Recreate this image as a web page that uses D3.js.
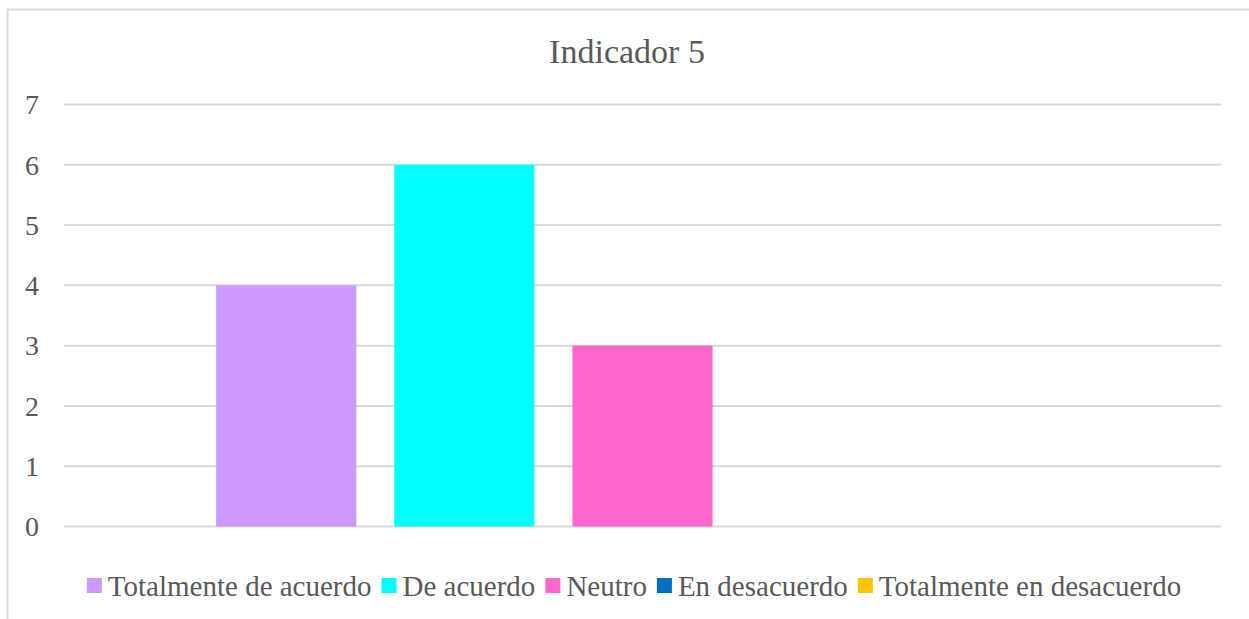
<!DOCTYPE html>
<html>
<head>
<meta charset="utf-8">
<script src="https://cdn.jsdelivr.net/npm/d3@7"></script>
<style>
  body { margin: 0; background: #fff; }
  svg text { font-family: "Liberation Serif", "Times New Roman", serif; }
  .grid line { stroke: #d9d9d9; stroke-width: 2; }
</style>
</head>
<body>
<script>
var series = ["Totalmente de acuerdo", "De acuerdo", "Neutro", "En desacuerdo", "Totalmente en desacuerdo"];
var values = [4, 6, 3, 0, 0];
var colors = ["#cc99ff", "#00ffff", "#ff66cc", "#0070c0", "#ffc000"];
var yTicks = [0, 1, 2, 3, 4, 5, 6, 7];
var title = "Indicador 5";

var w = 1249, h = 619;
var margin = { top: 104.5, right: 28, bottom: 92.5, left: 64 };

var svg = d3.select("body").append("svg")
  .attr("width", w)
  .attr("height", h);

// chart frame (runs off the right and bottom edges)
svg.append("rect")
  .attr("x", 7.5).attr("y", 9.5)
  .attr("width", w + 10).attr("height", h + 10)
  .attr("fill", "none")
  .attr("stroke", "#d9d9d9")
  .attr("stroke-width", 2);

var x0 = d3.scaleBand()
  .domain([""])
  .range([margin.left, w - margin.right])
  .paddingOuter(0.1784);

var x1 = d3.scaleBand()
  .domain(series)
  .range([0, x0.bandwidth()])
  .paddingInner(0.2135)
  .paddingOuter(0);

var y = d3.scaleLinear()
  .domain([0, 7])
  .range([h - margin.bottom, margin.top]);

var grid = svg.append("g").attr("class", "grid");
grid.selectAll("line")
  .data(yTicks)
  .join("line")
  .attr("x1", margin.left)
  .attr("x2", w - margin.right)
  .attr("y1", function (d) { return y(d); })
  .attr("y2", function (d) { return y(d); });

svg.append("g")
  .selectAll("text")
  .data(yTicks)
  .join("text")
  .attr("x", 39)
  .attr("y", function (d) { return y(d); })
  .attr("dy", "0.35em")
  .attr("text-anchor", "end")
  .attr("fill", "#595959")
  .style("font-size", "28px")
  .text(function (d) { return d; });

svg.append("g")
  .selectAll("rect")
  .data(series)
  .join("rect")
  .attr("x", function (d) { return x0("") + x1(d); })
  .attr("y", function (d, i) { return y(values[i]); })
  .attr("width", x1.bandwidth())
  .attr("height", function (d, i) { return y(0) - y(values[i]); })
  .attr("fill", function (d, i) { return colors[i]; });

svg.append("text")
  .attr("x", 627)
  .attr("y", 63)
  .attr("text-anchor", "middle")
  .attr("fill", "#595959")
  .style("font-size", "34px")
  .text(title);

// legend, centred under the plot
var legend = svg.append("g");
var items = legend.selectAll("g")
  .data(series)
  .join("g");
items.append("rect")
  .attr("width", 15)
  .attr("height", 15)
  .attr("y", -18)
  .attr("fill", function (d, i) { return colors[i]; });
items.append("text")
  .attr("x", 21)
  .attr("fill", "#595959")
  .style("font-size", "29px")
  .text(function (d) { return d; });

var pos = 0;
items.each(function () {
  var tw = d3.select(this).select("text").node().getComputedTextLength();
  d3.select(this).attr("transform", "translate(" + pos + ",0)");
  pos += 21 + tw + 10;
});
pos -= 10;
legend.attr("transform", "translate(" + (634 - pos / 2) + ",596)");
</script>
</body>
</html>
